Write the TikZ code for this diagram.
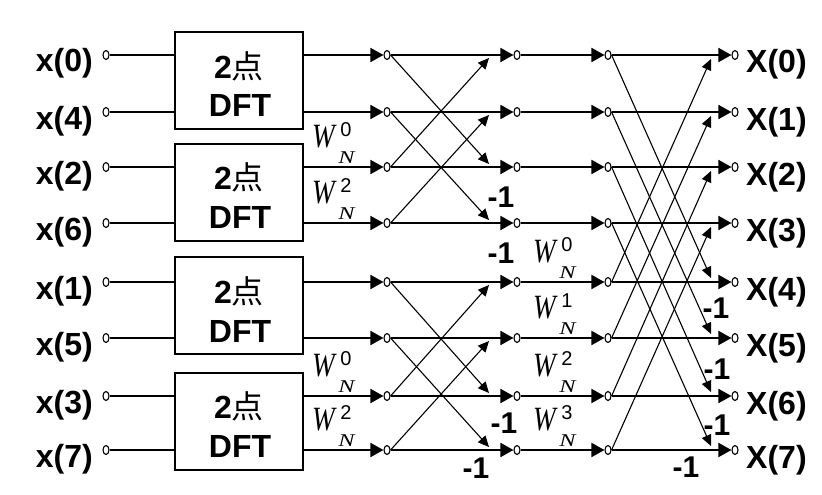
\documentclass[tikz,border=0pt]{standalone}
\usepackage{graphicx}
\usepackage{fontspec}
\setmainfont{Liberation Sans}
\newfontfamily\cjk{Noto Sans CJK SC}
\newfontfamily\twfont{Liberation Serif}
\usetikzlibrary{arrows.meta,shapes.geometric,calc}
\begin{document}
\begin{tikzpicture}[x=1pt,y=-1pt,
  dot/.style={draw,ellipse,line width=1.1pt,minimum width=6pt,minimum height=9pt,inner sep=0pt},
  hline/.style={line width=1.8pt},
  harrow/.style={line width=1.8pt,-{Triangle[length=13pt,width=14pt]}},
  darrow/.style={line width=1.1pt,-{Triangle[length=11pt,width=10pt]}},
  dftbox/.style={draw,line width=2pt,minimum width=128pt,minimum height=97pt,inner sep=0pt},
  lab/.style={font=\bfseries\fontsize{32}{32}\selectfont,inner sep=0pt},
  neg/.style={font=\bfseries\fontsize{30}{30}\selectfont,inner sep=0pt},
  wlet/.style={inner sep=0pt,anchor=base west,font=\twfont\itshape\fontsize{34}{34}\selectfont},
  wsup/.style={inner sep=0pt,anchor=base west,font=\fontsize{20}{20}\selectfont},
  wsub/.style={inner sep=0pt,anchor=base west,font=\twfont\itshape\fontsize{18}{18}\selectfont}
]
\useasboundingbox (0,0) rectangle (822,495);

\foreach \r/\y/\inl in {0/55/0, 1/112/4, 2/167/2, 3/223/6, 4/282/1, 5/338/5, 6/396/3, 7/450/7} {
  \node[dot] (in\r) at (106,\y) {};
  \node[dot] (sa\r) at (387,\y) {};
  \node[dot] (sb\r) at (517,\y) {};
  \node[dot] (sc\r) at (608,\y) {};
  \node[dot] (out\r) at (735,\y) {};
  \node[lab,anchor=base east] (xl\r) at (93,\y+17) {x(\inl)};
  \node[lab,anchor=base west] (Xl\r) at (746,\y+18) {X(\r)};
}

% diagonal arrow tips
\foreach \r/\y/\d in {0/55/3, 1/112/3, 2/167/-3, 3/223/-3, 4/282/3, 5/338/3, 6/396/-3, 7/450/-3}
  \coordinate (tb\r) at (489,\y+\d);
\foreach \r/\y/\d in {0/55/4, 1/112/4, 2/167/4, 3/223/4, 4/282/-4, 5/338/-4, 6/396/-4, 7/450/-4}
  \coordinate (tc\r) at (711,\y+\d);

% DFT boxes
\node[dftbox] (b1) at (239,80.5) {};
\node[dftbox] (b2) at (239,192) {};
\node[dftbox] (b3) at (239,305.5) {};
\node[dftbox] (b4) at (239,421) {};
\foreach \b in {1,2,3,4} {
  \node[lab,anchor=base] (bt\b a) at ($(b\b.center)+(0,-2.5)$) {2{\mdseries\cjk 点}};
  \node[lab,anchor=base] (bt\b b) at ($(b\b.center)+(1,36.5)$) {DFT};
}

% horizontal connectors
\foreach \r/\b in {0/1,1/1,2/2,3/2,4/3,5/3,6/4,7/4} {
  \draw[hline] (in\r) -- (in\r -| b\b.west);
  \draw[harrow] (sa\r -| b\b.east) -- (sa\r);
  \draw[harrow] (sa\r) -- (sb\r);
  \draw[harrow] (sb\r) -- (sc\r);
  \draw[harrow] (sc\r) -- (out\r);
}

% stage 2 butterflies
\foreach \a/\c in {0/2,1/3,4/6,5/7} {
  \draw[darrow] (sa\a.east) -- (tb\c);
  \draw[darrow] (sa\c.east) -- (tb\a);
}
% stage 3 butterflies
\foreach \a/\c in {0/4,1/5,2/6,3/7} {
  \draw[darrow] (sc\a.east) -- (tc\c);
  \draw[darrow] (sc\c.east) -- (tc\a);
}

% twiddle factors W_N^k
\foreach \nm/\x/\y/\k in {wa2/312/147/0, wa3/312/203/2, wa6/312/376/0, wa7/312/430/2,
                         wb4/533/262/0, wb5/533/318/1, wb6/533/376/2, wb7/533/430/3} {
  \node[wlet] (\nm) at (\x,\y) {\scalebox{0.8}[1]{W}};
  \node[wsup] (\nm k) at ($(\nm.base east)+(5,-11)$) {\k};
  \node[wsub] (\nm n) at ($(\nm.base east)+(3,16)$) {\scalebox{1.35}[1]{N}};
}

% -1 labels
\node[neg] (na2) at (501,197) {-1};
\node[neg] (na3) at (501,253) {-1};
\node[neg] (na6) at (504,423) {-1};
\node[neg] (na7) at (476,468) {-1};
\node[neg] (nc4) at (716,308) {-1};
\node[neg] (nc5) at (717,369) {-1};
\node[neg] (nc6) at (717,425) {-1};
\node[neg] (nc7) at (686,467) {-1};
\end{tikzpicture}
\end{document}
